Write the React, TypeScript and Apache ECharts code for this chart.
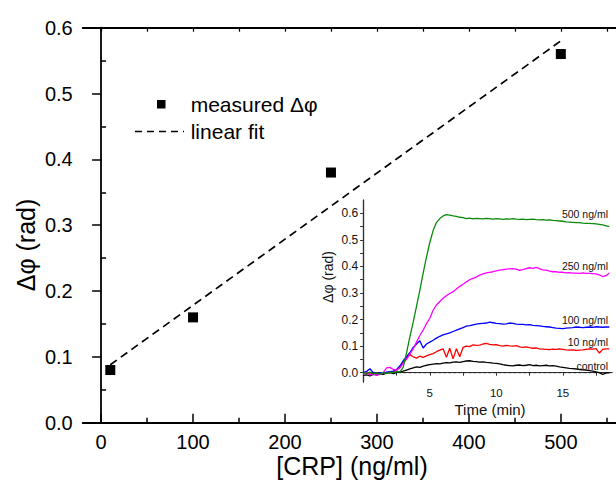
import React, { useEffect, useRef } from "react";
import * as echarts from "echarts";

// Main plot data
const crpConc = [10, 100, 250, 500];
const measuredPhase = [0.08, 0.16, 0.38, 0.56];
const fitX = [10, 500];
const fitY = [0.088, 0.58];
const mainXTicks = [0, 100, 200, 300, 400, 500];
const mainXMinor = [50, 150, 250, 350, 450, 550];
const mainXTop = [0, 50, 100, 150, 200, 250, 300, 350, 400, 450, 500, 550];
const mainYMinor = [0.05, 0.15, 0.25, 0.35, 0.45, 0.55];

// Inset data (time in minutes)
const times = [
  0, 0.25, 0.5, 0.75, 1, 1.25, 1.5, 1.75, 2, 2.25, 2.5, 2.75,
  3, 3.25, 3.5, 3.75, 4, 4.25, 4.5, 4.75, 5, 5.25, 5.5, 5.75,
  6, 6.25, 6.5, 6.75, 7, 7.25, 7.5, 7.75, 8, 8.25, 8.5, 8.75,
  9, 9.25, 9.5, 9.75, 10, 10.25, 10.5, 10.75, 11, 11.25, 11.5, 11.75,
  12, 12.25, 12.5, 12.75, 13, 13.25, 13.5, 13.75, 14, 14.25, 14.5, 14.75,
  15, 15.25, 15.5, 15.75, 16, 16.25, 16.5, 16.75, 17, 17.25, 17.5, 17.75,
  18, 18.25, 18.5,
];
const c500 = [
  0.0, -0.003, 0.002, -0.004, -0.002, -0.005, 0.0, -0.003, 0.002, 0.0, 0.004, 0.003,
  0.02, 0.075, 0.135, 0.19, 0.25, 0.31, 0.375, 0.435, 0.49, 0.535, 0.565, 0.58,
  0.59, 0.595, 0.593, 0.59, 0.588, 0.585, 0.584, 0.58, 0.582, 0.579, 0.581, 0.58,
  0.579, 0.581, 0.58, 0.578, 0.58, 0.579, 0.577, 0.579, 0.578, 0.58, 0.578, 0.577,
  0.578, 0.576, 0.577, 0.578, 0.576, 0.575, 0.576, 0.574, 0.575, 0.573, 0.572, 0.571,
  0.57, 0.568, 0.567, 0.566, 0.565, 0.565, 0.563, 0.562, 0.562, 0.561, 0.56, 0.558,
  0.556, 0.553, 0.55,
];
const c250 = [
  -0.005, 0.0, -0.008, -0.004, -0.01, -0.006, 0.0, 0.018, 0.02, 0.012, 0.01, 0.018,
  0.035, 0.05, 0.07, 0.09, 0.115, 0.14, 0.16, 0.185, 0.205, 0.235, 0.255, 0.268,
  0.28, 0.29, 0.298, 0.305, 0.315, 0.325, 0.333, 0.342, 0.35, 0.355, 0.36, 0.367,
  0.372, 0.376, 0.378, 0.38, 0.383, 0.386, 0.388, 0.39, 0.391, 0.392, 0.39, 0.385,
  0.388, 0.392, 0.395, 0.393, 0.396, 0.392, 0.387, 0.386, 0.382, 0.38, 0.38, 0.378,
  0.378, 0.376, 0.377, 0.375, 0.375, 0.374, 0.376, 0.374, 0.374, 0.373, 0.372, 0.368,
  0.362, 0.365, 0.375,
];
const c100 = [
  0.0, 0.005, 0.015, 0.0, -0.005, 0.0, -0.003, 0.002, 0.004, 0.006, 0.012, 0.025,
  0.045, 0.06, 0.075, 0.095, 0.108, 0.12, 0.093, 0.108, 0.115, 0.122, 0.13, 0.137,
  0.142, 0.146, 0.15, 0.155, 0.16, 0.165, 0.17, 0.175, 0.177, 0.18, 0.183, 0.185,
  0.186, 0.187, 0.19, 0.188, 0.186, 0.185, 0.183, 0.184, 0.187, 0.186, 0.183, 0.182,
  0.182, 0.18, 0.181, 0.178, 0.177, 0.176, 0.174, 0.173, 0.172, 0.17, 0.168, 0.167,
  0.166, 0.168, 0.169, 0.17, 0.172, 0.171, 0.17, 0.171, 0.172, 0.171, 0.173, 0.172,
  0.171, 0.172, 0.172,
];
const c10 = [
  -0.003, 0.0, -0.005, -0.002, -0.006, -0.004, -0.002, 0.0, 0.003, 0.004, 0.008, 0.02,
  0.04, 0.055, 0.068, 0.06, 0.055, 0.062, 0.058, 0.063, 0.068, 0.072, 0.079, 0.085,
  0.09, 0.058, 0.092, 0.052, 0.09, 0.06, 0.095, 0.1, 0.098, 0.105, 0.103, 0.104,
  0.108, 0.11, 0.107, 0.105, 0.106, 0.102, 0.1, 0.103, 0.101, 0.1, 0.102, 0.097,
  0.095, 0.097, 0.094, 0.092, 0.093, 0.09, 0.089, 0.088, 0.087, 0.089, 0.088, 0.09,
  0.088, 0.086, 0.085, 0.086, 0.084, 0.085, 0.086, 0.088, 0.09, 0.089, 0.091, 0.074,
  0.088, 0.09, 0.09,
];
const cControl = [
  -0.01, -0.008, -0.012, -0.006, -0.008, -0.004, -0.006, -0.002, 0.0, -0.003, 0.0, 0.003,
  0.006, 0.01, 0.014, 0.018, 0.022, 0.02, 0.025, 0.028, 0.03, 0.032, 0.034, 0.033,
  0.036, 0.038, 0.037, 0.04, 0.041, 0.039, 0.042, 0.044, 0.045, 0.043, 0.042, 0.04,
  0.041, 0.039, 0.038, 0.036, 0.035, 0.033, 0.03, 0.028, 0.027, 0.026, 0.028, 0.029,
  0.027, 0.028, 0.03, 0.027, 0.028, 0.026, 0.027, 0.028, 0.026, 0.027, 0.025, 0.022,
  0.02, 0.018, 0.016, 0.015, 0.014, 0.012, 0.011, 0.01, 0.008, 0.006, 0.003, 0.0,
  -0.006, -0.002, 0.0,
];
const insetXLabels = [5, 10, 15];
const insetXTicks = [2.5, 5, 7.5, 10, 12.5, 15, 17.5];
const insetYLabels = [0, 0.1, 0.2, 0.3, 0.4, 0.5, 0.6];
const insetYTicks = [0, 0.05, 0.1, 0.15, 0.2, 0.25, 0.3, 0.35, 0.4, 0.45, 0.5, 0.55, 0.6];
const curveNames = ["control", "10 ng/ml", "100 ng/ml", "250 ng/ml", "500 ng/ml"];
const curveColors = ["#000000", "#ff0000", "#0000ff", "#ff00ff", "#0a8a0a"];
const curveLabelY = [365.5, 341.5, 320, 265.5, 214];

const FONT = "'Liberation Sans', Arial, Helvetica, sans-serif";

export default function App() {
  const ref = useRef<HTMLDivElement>(null);
  useEffect(() => {
    if (!ref.current) return;
    const chart = echarts.init(ref.current, undefined, { renderer: "svg" });
    const black = "#000";
    const curves = [cControl, c10, c100, c250, c500];

    const mainGrid = { left: 82.7, top: 27.7, right: -11.3, bottom: 57.3, containLabel: false };
    const insetGrid = {
      left: 363.3, top: 200, width: 248.7, height: 182, show: true,
      backgroundColor: "#fff", borderColor: "transparent", z: 5,
    };

    const hidden = { show: false };
    const option: any = {
      animation: false,
      backgroundColor: "#fff",
      grid: [mainGrid, insetGrid],
      xAxis: [
        {
          gridIndex: 0, type: "value", min: -20, max: 560, position: "bottom",
          axisLine: { show: true, lineStyle: { color: black, width: 1.8 } },
          axisTick: { show: true, inside: true, length: 9, customValues: mainXTicks, lineStyle: { color: black, width: 1.5 } },
          axisLabel: { show: true, customValues: mainXTicks, fontSize: 20, fontFamily: FONT, color: black, margin: 9 },
          splitLine: hidden,
        },
        {
          gridIndex: 0, type: "value", min: -20, max: 560, position: "bottom",
          axisLine: hidden,
          axisTick: { show: true, inside: true, length: 5, customValues: mainXMinor, lineStyle: { color: black, width: 1.5 } },
          axisLabel: hidden, splitLine: hidden,
        },
        {
          gridIndex: 0, type: "value", min: -20, max: 560, position: "top",
          axisLine: { show: true, lineStyle: { color: black, width: 1.8 } },
          axisTick: { show: true, inside: true, length: 4, customValues: mainXTop, lineStyle: { color: black, width: 1.2 } },
          axisLabel: hidden, splitLine: hidden,
        },
        {
          gridIndex: 1, type: "value", min: 0, max: 18.7, position: "bottom", z: 6,
          axisLine: { show: true, lineStyle: { color: "#333", width: 1.2 } },
          axisTick: { show: true, inside: false, length: 3, customValues: insetXTicks, lineStyle: { color: "#333", width: 1 } },
          axisLabel: { show: true, customValues: insetXLabels, fontSize: 11.5, fontFamily: FONT, color: "#111", margin: 5 },
          splitLine: hidden,
        },
        {
          gridIndex: 1, type: "value", min: 0, max: 18.7, position: "top", z: 6,
          axisLine: { show: true, lineStyle: { color: "#333", width: 1.2 } },
          axisTick: hidden, axisLabel: hidden, splitLine: hidden,
        },
      ],
      yAxis: [
        {
          gridIndex: 0, type: "value", min: 0, max: 0.6, interval: 0.1, position: "left",
          axisLine: { show: true, lineStyle: { color: black, width: 1.8 } },
          axisTick: { show: true, inside: false, length: 9, lineStyle: { color: black, width: 1.5 } },
          axisLabel: { show: true, fontSize: 20, fontFamily: FONT, color: black, margin: 10, formatter: (v: number) => v.toFixed(1) },
          splitLine: hidden,
        },
        {
          gridIndex: 0, type: "value", min: 0, max: 0.6, position: "left",
          axisLine: hidden,
          axisTick: { show: true, inside: true, length: 5, customValues: mainYMinor, lineStyle: { color: black, width: 1.5 } },
          axisLabel: hidden, splitLine: hidden,
        },
        {
          gridIndex: 1, type: "value", min: -0.035, max: 0.65, position: "left", z: 6,
          axisLine: { show: true, lineStyle: { color: "#333", width: 1.2 } },
          axisTick: { show: true, inside: false, length: 3, customValues: insetYTicks, lineStyle: { color: "#333", width: 1 } },
          axisLabel: { show: true, customValues: insetYLabels, fontSize: 12, fontFamily: FONT, color: "#111", margin: 5, formatter: (v: number) => v.toFixed(1) },
          splitLine: hidden,
        },
        {
          gridIndex: 1, type: "value", min: -0.035, max: 0.65, position: "right", z: 6,
          axisLine: { show: true, lineStyle: { color: "#333", width: 1.2 } },
          axisTick: { show: true, inside: true, length: 3, customValues: insetYTicks, lineStyle: { color: "#333", width: 1 } },
          axisLabel: hidden, splitLine: hidden,
        },
      ],
      series: [
        {
          type: "line", xAxisIndex: 0, yAxisIndex: 0, showSymbol: false, symbol: "none",
          data: fitX.map((x, i) => [x, fitY[i]]),
          lineStyle: { color: black, width: 1.7, type: [8, 5] },
        },
        {
          type: "scatter", xAxisIndex: 0, yAxisIndex: 0, symbol: "rect", symbolSize: 10,
          data: crpConc.map((x, i) => [x, measuredPhase[i]]),
          itemStyle: { color: black, opacity: 1 },
        },
        {
          type: "line", xAxisIndex: 3, yAxisIndex: 2, symbol: "none", z: 6,
          data: [[0, 0], [18.7, 0]],
          lineStyle: { color: "#222", width: 1, type: [3, 2] },
        },
        ...curves.map((c, k) => ({
          type: "line", xAxisIndex: 3, yAxisIndex: 2, symbol: "none", z: 7,
          name: curveNames[k],
          data: times.map((t, i) => [t, c[i]]),
          lineStyle: { color: curveColors[k], width: 1.3 },
        })),
      ],
      graphic: [
        // legend
        { type: "rect", shape: { x: 157, y: 100, width: 8.5, height: 8.5 }, style: { fill: black } },
        { type: "text", x: 190.7, y: 104, style: { text: "measured Δφ", font: `21px ${FONT}`, fill: black, textAlign: "left", textVerticalAlign: "middle" } },
        { type: "line", shape: { x1: 135, y1: 131.5, x2: 184, y2: 131.5 }, style: { stroke: black, lineWidth: 1.6, lineDash: [7, 5] } },
        { type: "text", x: 190.7, y: 131, style: { text: "linear fit", font: `21px ${FONT}`, fill: black, textAlign: "left", textVerticalAlign: "middle" } },
        // axis names
        { type: "text", x: 26, y: 245, rotation: Math.PI / 2, style: { text: "Δφ (rad)", font: `25px ${FONT}`, fill: black, textAlign: "center", textVerticalAlign: "middle" } },
        { type: "text", x: 352, y: 465.5, style: { text: "[CRP] (ng/ml)", font: `25px ${FONT}`, fill: black, textAlign: "center", textVerticalAlign: "middle" } },
        { type: "text", x: 328, y: 277, z: 10, rotation: Math.PI / 2, style: { text: "Δφ (rad)", font: `14px ${FONT}`, fill: "#111", textAlign: "center", textVerticalAlign: "middle" } },
        { type: "text", x: 490, y: 409, z: 10, style: { text: "Time (min)", font: `15px ${FONT}`, fill: "#111", textAlign: "center", textVerticalAlign: "middle" } },
        // curve labels
        ...curveNames.map((n, k) => ({
          type: "text", x: 608, y: curveLabelY[k], z: 10,
          style: { text: n, font: `10.5px ${FONT}`, fill: "#111", textAlign: "right", textVerticalAlign: "middle" },
        })),
      ],
    };
    chart.setOption(option);
    return () => chart.dispose();
  }, []);
  return <div ref={ref} style={{ position: "fixed", left: 0, top: 0, width: 616, height: 480 }} />;
}
